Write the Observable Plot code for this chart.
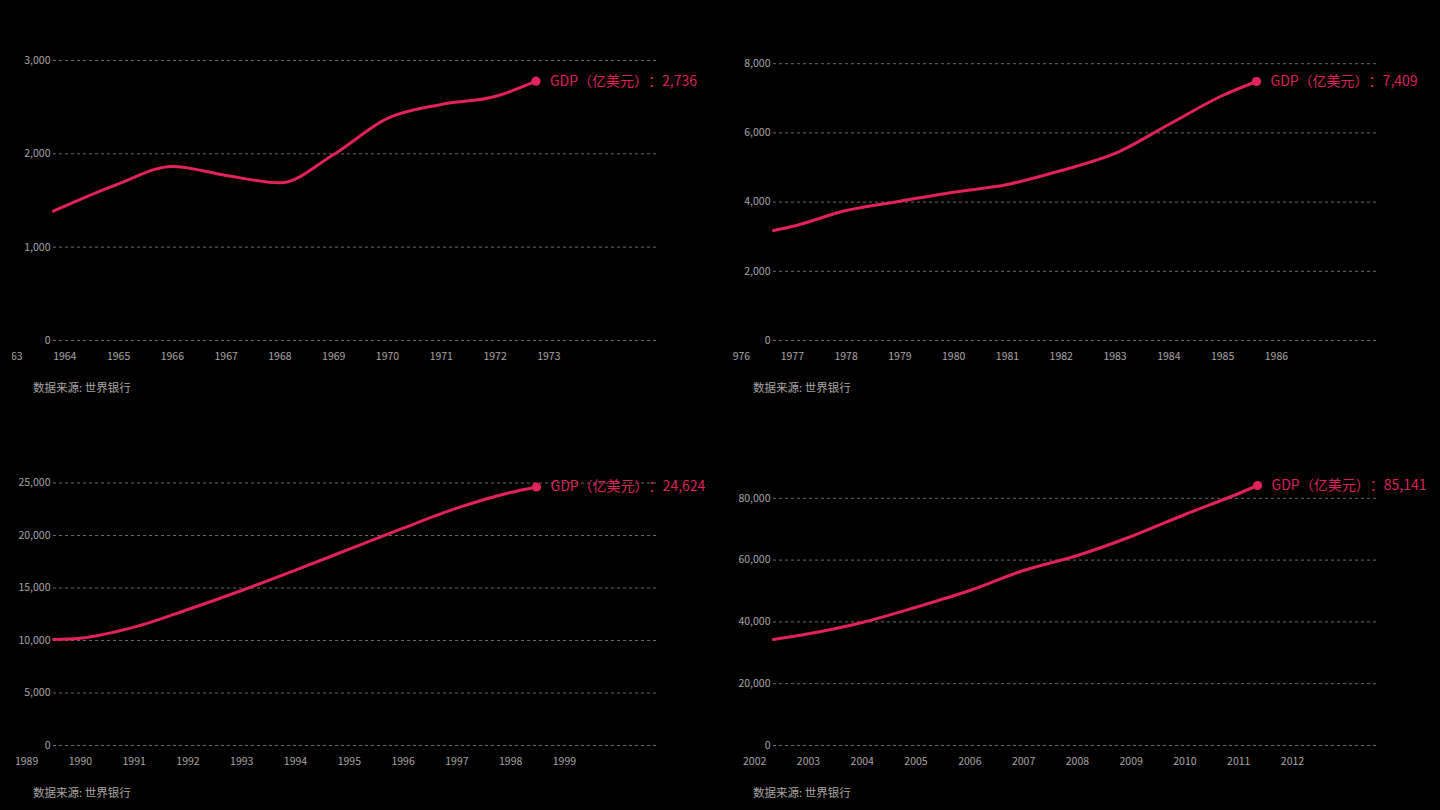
<!DOCTYPE html>
<html>
<head>
<meta charset="utf-8">
<script src="https://cdn.jsdelivr.net/npm/d3@7"></script>
<script src="https://cdn.jsdelivr.net/npm/@observablehq/plot@0.6"></script>
<style>
  html, body { margin: 0; padding: 0; background: #000; }
  body { width: 1440px; height: 810px; position: relative; overflow: hidden; font-family: "Noto Sans CJK SC", "Noto Sans", sans-serif; text-spacing-trim: space-all; }
  .panel { position: absolute; width: 720px; height: 405px; }
  .panel svg { position: absolute; left: 12px; top: 0; overflow: hidden !important; text-spacing-trim: space-all; }
  .panel svg text { text-spacing-trim: space-all; }
  .caption { position: absolute; left: 33px; top: 379px; font-size: 11.5px; line-height: 16px; color: #a9a5a3; white-space: nowrap; }
</style>
</head>
<body>
<script>
// ---- Data ----
// Each panel: yearly GDP values (亿美元) shown in the sliding window, plus the
// value at the left edge of the window and the current (end) point.
const years1 = [1964, 1965, 1966, 1967, 1968, 1969, 1970, 1971, 1972];
const gdp1   = [1440, 1679, 1865, 1768, 1690, 1993, 2379, 2529, 2614];
const years2 = [1977, 1978, 1979, 1980, 1981, 1982, 1983, 1984, 1985];
const gdp2   = [3295, 3757, 4026, 4286, 4509, 4913, 5405, 6243, 7081];
const years3 = [1990, 1991, 1992, 1993, 1994, 1995, 1996, 1997, 1998];
const gdp3   = [10219, 11270, 12952, 14762, 16700, 18700, 20700, 22600, 24095];
const years4 = [2003, 2004, 2005, 2006, 2007, 2008, 2009, 2010, 2011];
const gdp4   = [36140, 39806, 44757, 50162, 56634, 61489, 67638, 74757, 81553];

const windowStart = [1963.79, 1976.65, 1989.50, 2002.35];
const windowEnd   = [1975.02, 1987.88, 2000.73, 2013.58];
const startGdp    = [1386, 3179, 10095, 34304];
const currentTime = [1972.76, 1985.63, 1998.48, 2011.35];
const currentGdp  = [2778, 7486, 24620, 84142];
const labelGdp    = [2736, 7409, 24624, 85141];

const xTickYears = [
  [1963, 1964, 1965, 1966, 1967, 1968, 1969, 1970, 1971, 1972, 1973],
  [1976, 1977, 1978, 1979, 1980, 1981, 1982, 1983, 1984, 1985, 1986],
  [1989, 1990, 1991, 1992, 1993, 1994, 1995, 1996, 1997, 1998, 1999],
  [2002, 2003, 2004, 2005, 2006, 2007, 2008, 2009, 2010, 2011, 2012]
];
const yTicks = [
  [0, 1000, 2000, 3000],
  [0, 2000, 4000, 6000, 8000],
  [0, 5000, 10000, 15000, 20000, 25000],
  [0, 20000, 40000, 60000, 80000]
];
const yMax = [3032, 8179, 26952, 91586];

const seriesYears = [years1, years2, years3, years4];
const seriesGdp = [gdp1, gdp2, gdp3, gdp4];
const labelPrefix = "GDP（亿美元）：";
const captionText = "数据来源: 世界银行";

// ---- Style ----
const lineColor = "#e3215b";
const labelColor = "#dc2359";
const textColor = "#a9a5a3";
const gridColor = "#6a6a6a";
const positions = [[0, 0], [720, 0], [0, 405], [720, 405]];
const fmt = d3.format(",");

for (let i = 0; i < 4; i++) {
  const data = [{t: windowStart[i], v: startGdp[i]}]
    .concat(seriesYears[i].map((y, j) => ({t: y, v: seriesGdp[i][j]})))
    .concat([{t: currentTime[i], v: currentGdp[i]}]);
  const end = [{t: currentTime[i], v: currentGdp[i], label: labelPrefix + fmt(labelGdp[i])}];

  const chart = Plot.plot({
    width: 708,
    height: 370,
    marginLeft: 41,
    marginRight: 63,
    marginTop: 57,
    marginBottom: 30,
    style: {background: "transparent", color: textColor, fontFamily: '"Noto Sans CJK SC", "Noto Sans", sans-serif', fontSize: "10.5px", overflow: "hidden"},
    x: {domain: [windowStart[i], windowEnd[i]], axis: null},
    y: {domain: [0, yMax[i]], axis: null},
    marks: [
      Plot.gridY(yTicks[i], {stroke: gridColor, strokeOpacity: 1, strokeWidth: 1, strokeDasharray: "3,3"}),
      Plot.axisY(yTicks[i], {tickSize: 0, tickPadding: 3, tickFormat: fmt, label: null, fill: textColor, fontSize: 10.5}),
      Plot.text(xTickYears[i], {x: d => d, frameAnchor: "bottom", dy: 19, text: d => String(d), fill: textColor, fontSize: 10.5}),
      Plot.line(data, {x: "t", y: "v", stroke: lineColor, strokeWidth: 3, curve: "monotone-x"}),
      Plot.dot(end, {x: "t", y: "v", r: 4.6, fill: lineColor, stroke: "none"}),
      Plot.text(end, {x: "t", y: "v", text: "label", dx: 14, textAnchor: "start", fill: labelColor, fontSize: 14})
    ]
  });

  const panel = document.createElement("div");
  panel.className = "panel";
  panel.style.left = positions[i][0] + "px";
  panel.style.top = positions[i][1] + "px";
  panel.appendChild(chart);
  const cap = document.createElement("div");
  cap.className = "caption";
  cap.textContent = captionText;
  panel.appendChild(cap);
  document.body.appendChild(panel);
}
</script>
</body>
</html>
